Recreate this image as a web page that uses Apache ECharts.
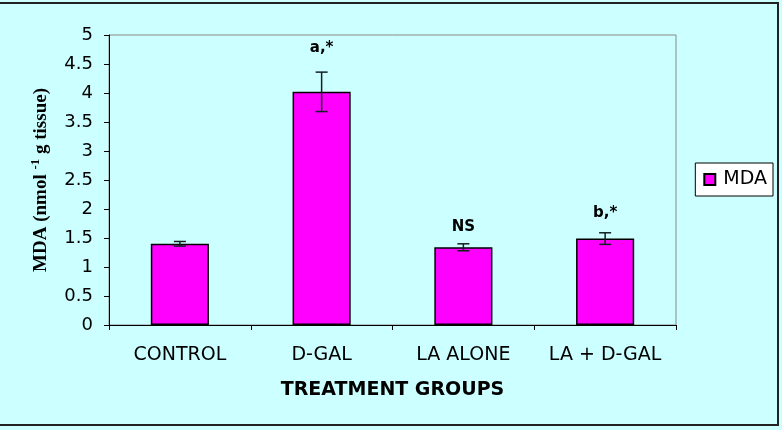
<!DOCTYPE html>
<html><head><meta charset="utf-8">
<script src="https://cdn.jsdelivr.net/npm/echarts@6/dist/echarts.min.js"></script>
<style>html,body{margin:0;padding:0;background:#CCFFFF;}#c{width:782px;height:430px;}</style>
</head><body><div id="c"></div>
<script>
const categories = ['CONTROL', 'D-GAL', 'LA ALONE', 'LA + D-GAL'];
const mdaValues = [1.40, 4.02, 1.34, 1.49];
const mdaErrors = [0.04, 0.34, 0.06, 0.10];
const annotTexts = ['', 'a,*', 'NS', 'b,*'];
const annotAt = [null, 4.78, 1.69, 1.93];
const yTicks = { min: 0, max: 5, interval: 0.5 };

const errData = categories.map((c, i) => [i, mdaValues[i] - mdaErrors[i], mdaValues[i] + mdaErrors[i]]);
const annData = categories.map((c, i) => [i, annotAt[i], annotTexts[i]]).filter(d => d[1] != null);

const chart = echarts.init(document.getElementById('c'), null, { renderer: 'canvas' });
chart.setOption({
  backgroundColor: '#CCFFFF',
  animation: false,
  graphic: [{
    type: 'rect', shape: { x: -3, y: 3, width: 781, height: 422 },
    style: { fill: 'none', stroke: '#222', lineWidth: 2 }, silent: true
  }],
  grid: { left: 109, top: 35, right: 106, bottom: 105, show: true, borderColor: '#888', borderWidth: 1, backgroundColor: 'transparent' },
  legend: {
    data: ['MDA'], orient: 'vertical', right: 9, top: 163,
    backgroundColor: '#fff', borderColor: '#000', borderWidth: 1,
    padding: [7, 6, 7, 8], itemWidth: 11, itemHeight: 11, itemGap: 0,
    icon: 'rect',
    textStyle: { fontFamily: 'DejaVu Sans', fontSize: 19, lineHeight: 19, color: '#000', padding: [0, 0, 0, 3] }
  },
  xAxis: {
    type: 'category', data: categories,
    name: 'TREATMENT GROUPS', nameLocation: 'middle', nameGap: 56,
    nameTextStyle: { fontFamily: 'DejaVu Sans', fontWeight: 'bold', fontSize: 19, color: '#000' },
    axisLine: { lineStyle: { color: '#000', width: 1 } },
    axisTick: { show: true, length: 5, inside: false, lineStyle: { color: '#000' } },
    axisLabel: { interval: 0, hideOverlap: false, margin: 21, fontFamily: 'DejaVu Sans', fontSize: 19, color: '#000' }
  },
  yAxis: {
    type: 'value', min: yTicks.min, max: yTicks.max, interval: yTicks.interval,
    name: '{b|MDA (nmol }{s|-1}{b| g tissue)}', nameLocation: 'middle', nameGap: 55, nameRotate: 90,
    nameTextStyle: { rich: {
      b: { fontFamily: 'Liberation Serif', fontWeight: 'bold', fontSize: 19, color: '#000' },
      s: { fontFamily: 'Liberation Serif', fontWeight: 'bold', fontSize: 13, color: '#000', verticalAlign: 'bottom', padding: [0, 0, 12, 0] }
    } },
    axisLine: { show: true, lineStyle: { color: '#000', width: 1 } },
    axisTick: { show: true, length: 5, lineStyle: { color: '#000' } },
    splitLine: { show: false },
    axisLabel: { margin: 16, fontFamily: 'DejaVu Sans', fontSize: 18, color: '#000' }
  },
  series: [
    {
      name: 'MDA', type: 'bar', data: mdaValues, barWidth: '41%',
      itemStyle: { color: '#FF00FF', borderColor: '#000', borderWidth: 1.5 }
    },
    {
      type: 'custom', name: 'err', data: errData, z: 5, silent: true,
      renderItem: function (params, api) {
        const i = api.value(0);
        const lo = api.coord([i, api.value(1)]);
        const hi = api.coord([i, api.value(2)]);
        const hw = 6;
        const st = { stroke: '#112222', lineWidth: 1.5 };
        return { type: 'group', children: [
          { type: 'line', shape: { x1: hi[0], y1: hi[1], x2: lo[0], y2: lo[1] }, style: st },
          { type: 'line', shape: { x1: hi[0] - hw, y1: hi[1], x2: hi[0] + hw, y2: hi[1] }, style: st },
          { type: 'line', shape: { x1: lo[0] - hw, y1: lo[1], x2: lo[0] + hw, y2: lo[1] }, style: st }
        ] };
      }
    },
    {
      type: 'custom', name: 'ann', data: annData, z: 6, silent: true,
      renderItem: function (params, api) {
        const p = api.coord([api.value(0), api.value(1)]);
        return { type: 'text', x: p[0], y: p[1], style: {
          text: annData[params.dataIndex][2], fill: '#000',
          font: 'bold 15px "DejaVu Sans"', align: 'center', verticalAlign: 'middle'
        } };
      }
    }
  ]
});
</script></body></html>
